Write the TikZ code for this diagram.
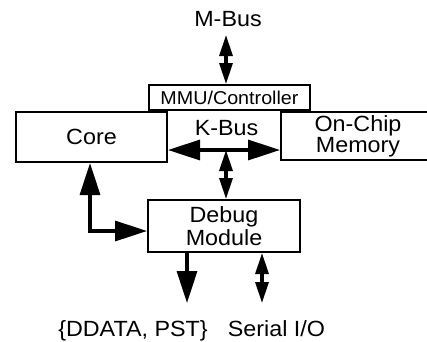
\documentclass[tikz,border=0pt]{standalone}
\usepackage{fontspec}
\setmainfont[FakeStretch=1.06]{Liberation Sans}
\usetikzlibrary{arrows.meta}
\tikzset{
  blk/.style={draw,line width=2pt,inner sep=0pt,align=center},
  lbl/.style={inner sep=0pt,anchor=base},
  bigbus/.style={line width=3.2pt,>={Triangle[length=32pt,width=20pt]}},
  smallbus/.style={line width=3.2pt,>={Triangle[length=21pt,width=13pt]}}
}

\begin{document}
\begin{tikzpicture}[x=1pt,y=-1pt,font=\fontsize{22}{23.3}\selectfont]
  \useasboundingbox (0,0) rectangle (427,341);
  % blocks
  \node[blk,minimum width=161pt,minimum height=25pt,
        font=\fontsize{18.6}{20}\selectfont] (mmu) at (229.5,97.5) {MMU/Controller};
  \node[blk,minimum width=151pt,minimum height=50pt] (core) at (91.5,137) {Core};
  \node[blk,minimum width=154pt,minimum height=48pt,
        font=\fontsize{22}{18.7}\selectfont] (mem) at (358,136) {On-Chip\\Memory};
  \node[blk,minimum width=152pt,minimum height=52pt] (dbg) at (224,226) {Debug\\Module};
  % labels
  \node[lbl] (mbus) at (228,26.7) {M-Bus};
  \node[lbl] (kbus) at (226.5,135) {K-Bus};
  \node[lbl] (ddata) at (133,336.7) {\{DDATA, PST\}};
  \node[lbl] (sio) at (276.5,336.7) {Serial I/O};
  % buses
  \coordinate (mb) at (226,35);
  \coordinate (kb) at (226,150);
  \coordinate (cd) at (90,231);
  \coordinate (dd) at (187,303);
  \coordinate (sr) at (262,303);
  \draw[smallbus,<->] (mb) -- (mb |- mmu.north);
  \draw[bigbus,<->] (core.east |- kb) -- (mem.west |- kb);
  \draw[smallbus,<->] (kb) -- (kb |- dbg.north);
  \draw[bigbus,<->] (cd |- core.south) -- (cd) -- (cd -| dbg.west);
  \draw[bigbus,->] (dd |- dbg.south) -- (dd);
  \draw[smallbus,<->] (sr |- dbg.south) -- (sr);
\end{tikzpicture}
\end{document}
